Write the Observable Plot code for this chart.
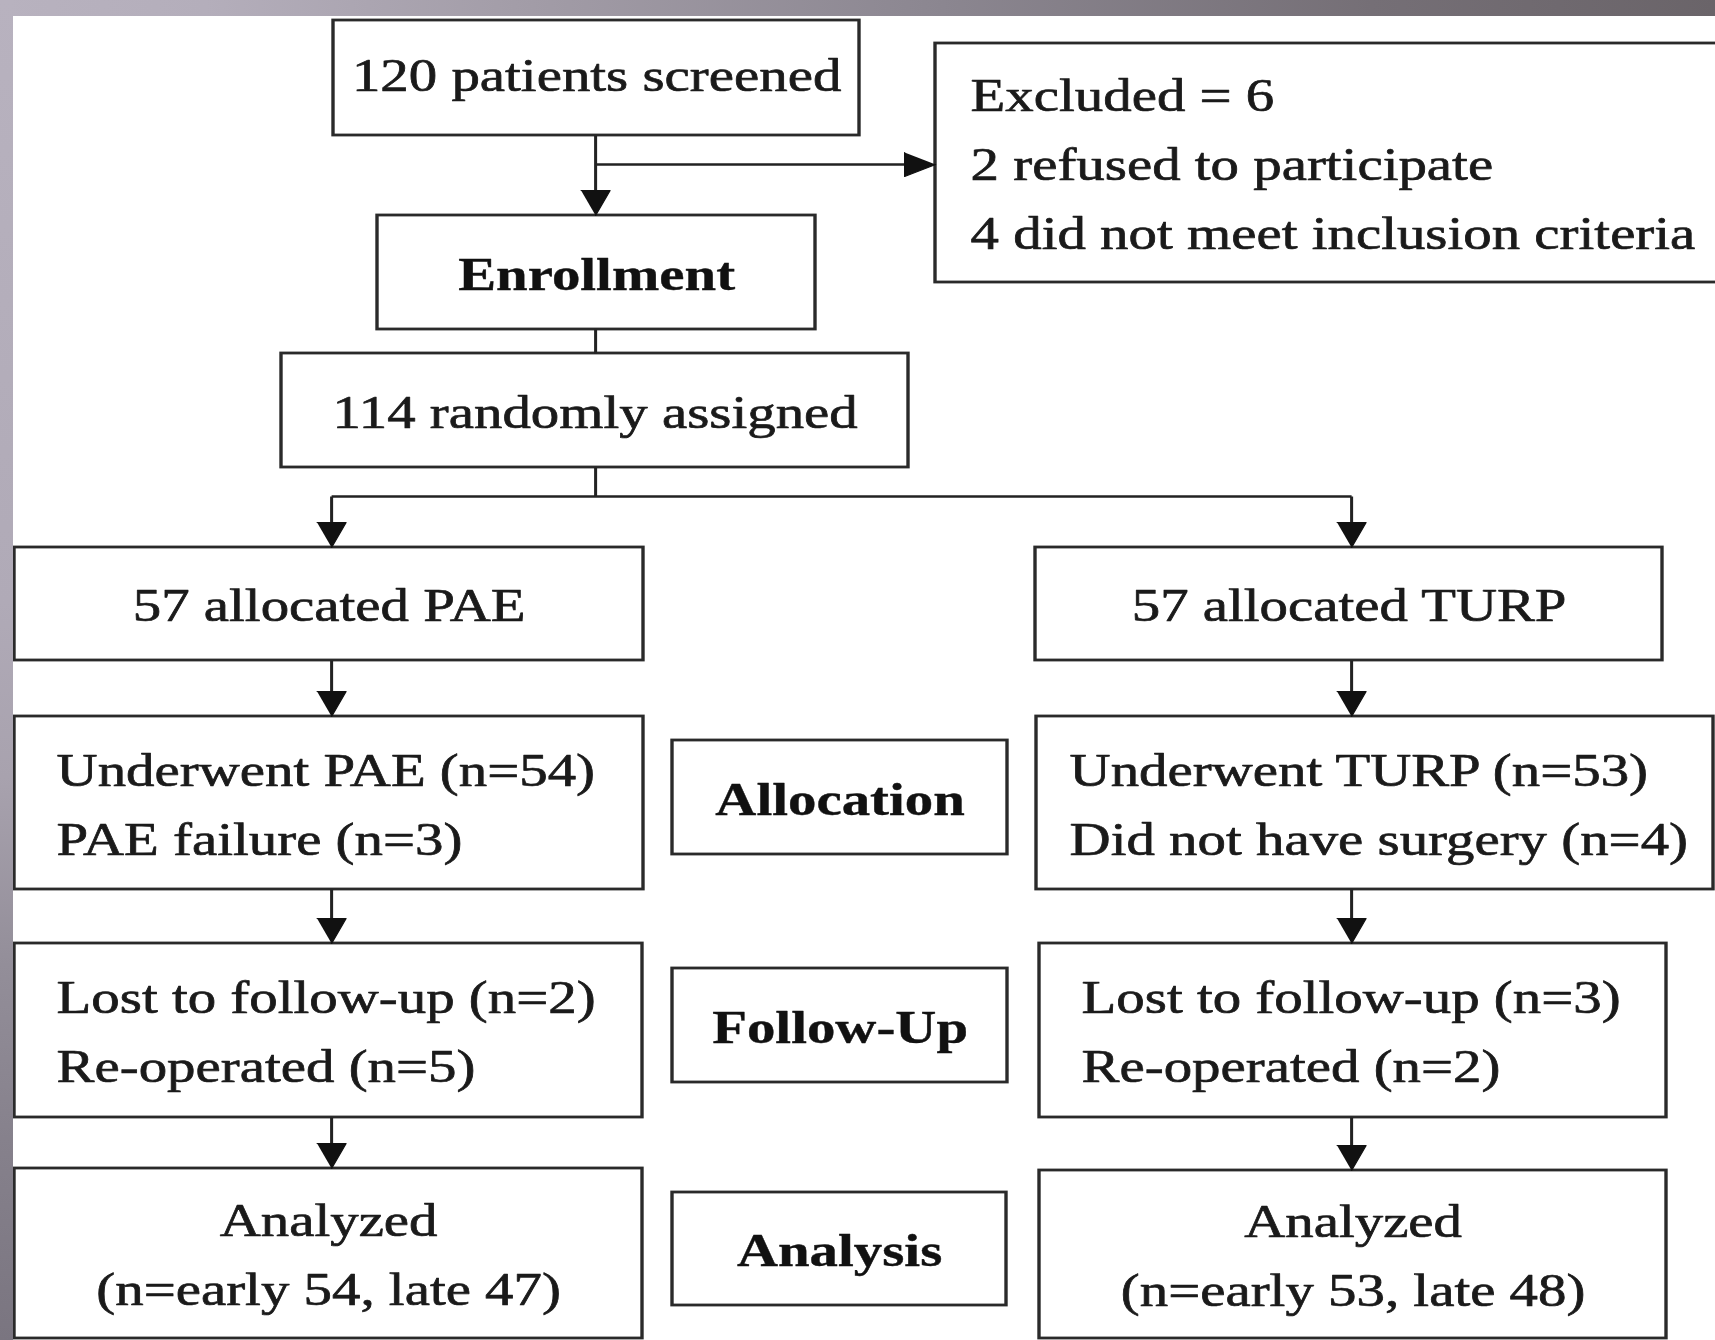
<!DOCTYPE html>
<html>
<head>
<meta charset="utf-8">
<script src="https://cdn.jsdelivr.net/npm/d3@7"></script>
<script src="https://cdn.jsdelivr.net/npm/@observablehq/plot@0.6"></script>
<style>
  html, body { margin: 0; padding: 0; background: #fff; }
  #frame { position: relative; width: 1715px; height: 1340px; overflow: hidden; background: #fff; }
  #topband { position: absolute; left: 0; top: 0; width: 1715px; height: 16px;
    background: linear-gradient(to right, #b8b2bf 0%, #b4aebb 12%, #a39da8 30%, #8b8690 55%, #756f76 80%, #6a6469 100%); }
  #leftband { position: absolute; left: 0; top: 0; width: 13px; height: 1340px;
    background: linear-gradient(to bottom, #b8b2bf 0%, #b0aab7 45%, #a8a2ae 58%, #938e99 72%, #86818c 85%, #7a7580 100%); }
  #chart { position: absolute; left: 13px; top: 16px; }
</style>
</head>
<body>
<div id="frame"><div id="topband"></div><div id="leftband"></div><div id="chart"></div></div>
<script>
// ---------- content ----------
const topLabels = ["120 patients screened", "114 randomly assigned"];
const excludedLabels = ["Excluded = 6", "2 refused to participate", "4 did not meet inclusion criteria"];
const stageLabels = ["Enrollment", "Allocation", "Follow-Up", "Analysis"];
const paeLabels = [
  "57 allocated PAE",
  "Underwent PAE (n=54)\nPAE failure (n=3)",
  "Lost to follow-up (n=2)\nRe-operated (n=5)",
  "Analyzed\n(n=early 54, late 47)"
];
const turpLabels = [
  "57 allocated TURP",
  "Underwent TURP (n=53)\nDid not have surgery (n=4)",
  "Lost to follow-up (n=3)\nRe-operated (n=2)",
  "Analyzed\n(n=early 53, late 48)"
];

// ---------- layout (reference pixel units) ----------
const FRAME = {x0: 13, y0: 16, x1: 1715, y1: 1340};
const STRETCH = 1.21;           // horizontal stretch of the original figure
const FONT = 47;
const colX = {main: 595, pae: 331, turp: 1351};
const geom = {
  screened:   [333, 859, 20, 135],
  excluded:   [935, 1770, 43, 282],
  enrollment: [377, 815, 215, 329],
  randomized: [281, 908, 353, 467],
  pae:  [[14, 643, 547, 660], [14, 643, 716, 889], [14, 642, 943, 1117], [14, 642, 1168, 1338]],
  turp: [[1035, 1662, 547, 660], [1036, 1713, 716, 889], [1039, 1666, 943, 1117], [1039, 1666, 1170, 1338]],
  stage: [[672, 1007, 740, 854], [672, 1007, 968, 1082], [672, 1006, 1192, 1305]]
};
const leftText = {excluded: 970, pae: [null, 56, 56, null], turp: [null, 1069, 1081, null]};
const textShift = {screened: -9, other: -5};
const splitY = 496, branchY = 164;
const head = {len: 25, half: 14.5, rlen: 31, rhalf: 12};

// ---------- build nodes ----------
function node(g, label, anchor, tx, bold, shift = textShift.other) {
  const [x1, x2, y1, y2] = g;
  return {x1, x2, y1, y2, label, anchor, bold,
    tx: anchor === "start" ? tx : (x1 + x2) / 2, ty: (y1 + y2) / 2 + shift};
}
const nodes = [
  node(geom.screened, topLabels[0], "middle", null, false, textShift.screened),
  node(geom.excluded, excludedLabels.join("\n"), "start", leftText.excluded),
  node(geom.enrollment, stageLabels[0], "middle", null, true),
  node(geom.randomized, topLabels[1], "middle"),
  ...paeLabels.map((l, i) => node(geom.pae[i], l, leftText.pae[i] ? "start" : "middle", leftText.pae[i])),
  ...turpLabels.map((l, i) => node(geom.turp[i], l, leftText.turp[i] ? "start" : "middle", leftText.turp[i])),
  ...geom.stage.map((g, i) => node(g, stageLabels[i + 1], "middle", null, true))
];

// ---------- connectors & arrowheads ----------
const segs = [];
const heads = [];
function down(x, yFrom, yTo, arrow = true) {
  segs.push({x1: x, y1: yFrom, x2: x, y2: arrow ? yTo - head.len + 2 : yTo});
  if (arrow) heads.push({x, y: yTo, dir: "down"});
}
down(colX.main, geom.screened[3], geom.enrollment[2]);
segs.push({x1: colX.main, y1: branchY, x2: geom.excluded[0] - head.rlen + 2, y2: branchY});
heads.push({x: geom.excluded[0], y: branchY, dir: "right"});
down(colX.main, geom.enrollment[3], geom.randomized[2], false);
down(colX.main, geom.randomized[3], splitY, false);
segs.push({x1: colX.pae, y1: splitY, x2: colX.turp, y2: splitY});
down(colX.pae, splitY, geom.pae[0][2]);
down(colX.turp, splitY, geom.turp[0][2]);
for (let i = 0; i < 3; i++) {
  down(colX.pae, geom.pae[i][3], geom.pae[i + 1][2]);
  down(colX.turp, geom.turp[i][3], geom.turp[i + 1][2]);
}
const headPts = heads.flatMap((h, id) => h.dir === "down"
  ? [{id, x: h.x - head.half, y: h.y - head.len}, {id, x: h.x + head.half, y: h.y - head.len}, {id, x: h.x, y: h.y}]
  : [{id, x: h.x - head.rlen, y: h.y - head.rhalf}, {id, x: h.x - head.rlen, y: h.y + head.rhalf}, {id, x: h.x, y: h.y}]);

// ---------- plot ----------
const W0 = (FRAME.x1 - FRAME.x0) / STRETCH;
const H = FRAME.y1 - FRAME.y0;
const textStyle = {x: "tx", y: "ty", text: "label", fontSize: FONT, lineHeight: 1.47, lineAnchor: "middle",
  fill: "#1a1a1a", stroke: "#1a1a1a", strokeWidth: 0.7};

const chart = Plot.plot({
  width: W0, height: H, margin: 0,
  x: {domain: [FRAME.x0, FRAME.x1], range: [0, W0], axis: null},
  y: {domain: [FRAME.y0, FRAME.y1], range: [0, H], axis: null},
  style: {background: "white", fontFamily: "'Liberation Serif', 'Times New Roman', serif"},
  marks: [
    Plot.rect(nodes, {x1: "x1", x2: "x2", y1: "y1", y2: "y2", fill: "white", stroke: "#2a2a2a", strokeWidth: 2.8}),
    Plot.link(segs, {x1: "x1", y1: "y1", x2: "x2", y2: "y2", stroke: "#222", strokeWidth: 2.5}),
    Plot.line(headPts, {x: "x", y: "y", z: "id", fill: "#111", stroke: "#111", strokeWidth: 1}),
    Plot.text(nodes.filter(d => d.anchor === "middle" && !d.bold), {...textStyle, textAnchor: "middle"}),
    Plot.text(nodes.filter(d => d.anchor === "start"), {...textStyle, textAnchor: "start"}),
    Plot.text(nodes.filter(d => d.bold), {...textStyle, textAnchor: "middle", fontWeight: "bold", fill: "#111", stroke: "#111", strokeWidth: 0.4})
  ]
});

// stretch horizontally like the original figure
const outW = FRAME.x1 - FRAME.x0;
chart.setAttribute("width", outW);
chart.setAttribute("height", H);
chart.setAttribute("preserveAspectRatio", "none");
chart.style.width = outW + "px";
chart.style.height = H + "px";
chart.style.maxWidth = "none";
document.getElementById("chart").appendChild(chart);
</script>
</body>
</html>
